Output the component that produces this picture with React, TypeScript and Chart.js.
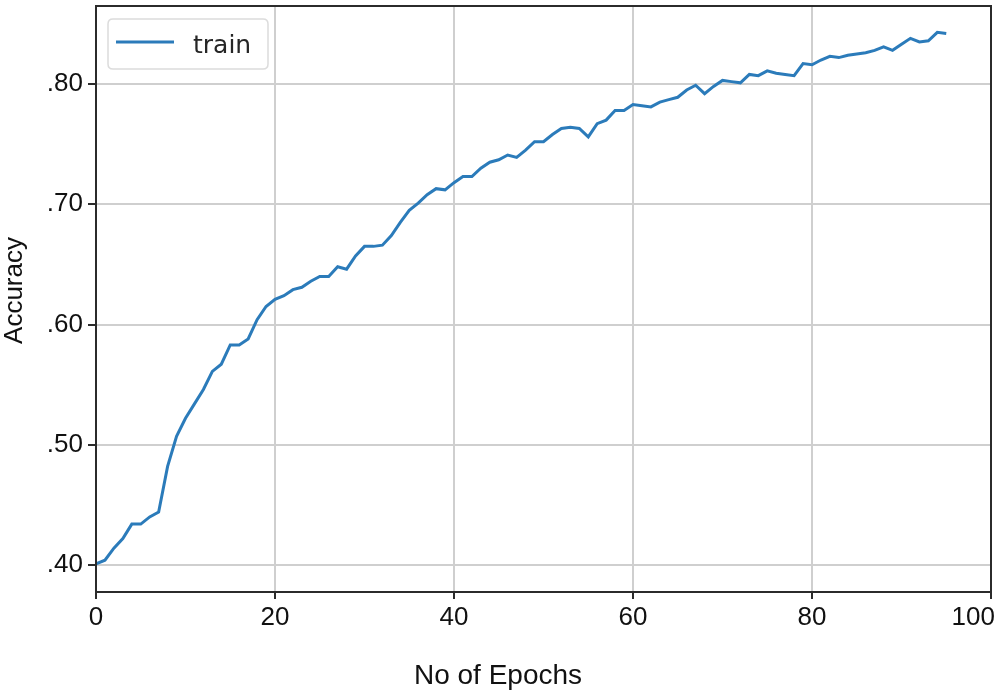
import React, { useEffect, useRef } from "react";
import { Chart, registerables } from "chart.js";

Chart.register(...registerables);

const seriesLabel = "train";
const trainAccuracy = [
  0.401, 0.404, 0.414, 0.422, 0.434, 0.434, 0.44, 0.444, 0.482, 0.507,
  0.522, 0.534, 0.546, 0.561, 0.567, 0.583, 0.583, 0.588, 0.604, 0.615,
  0.621, 0.624, 0.629, 0.631, 0.636, 0.64, 0.64, 0.648, 0.646, 0.657,
  0.665, 0.665, 0.666, 0.674, 0.685, 0.695, 0.701, 0.708, 0.713, 0.712,
  0.718, 0.723, 0.723, 0.73, 0.735, 0.737, 0.741, 0.739, 0.745, 0.752,
  0.752, 0.758, 0.763, 0.764, 0.763, 0.756, 0.767, 0.77, 0.778, 0.778,
  0.783, 0.782, 0.781, 0.785, 0.787, 0.789, 0.795, 0.799, 0.792, 0.798,
  0.803, 0.802, 0.801, 0.808, 0.807, 0.811, 0.809, 0.808, 0.807, 0.817,
  0.816, 0.82, 0.823, 0.822, 0.824, 0.825, 0.826, 0.828, 0.831, 0.828,
  0.833, 0.838, 0.835, 0.836, 0.843, 0.842,
];
const epochs = trainAccuracy.map((_, i) => i);
const yTickValues = [0.4, 0.5, 0.6, 0.7, 0.8];
const xTickValues = [0, 20, 40, 60, 80, 100];
const xTitle = "No of Epochs";
const yTitle = "Accuracy";

const LINE_COLOR = "#2b7bba";
const FONT = "'Liberation Sans', Arial, sans-serif";

const framePlugin = {
  id: "frame",
  beforeDraw(chart: any) {
    const xs = chart.scales.x;
    const items = xs.getLabelItems();
    if (items && items.length) {
      const last = items[items.length - 1];
      last.options.textAlign = "right";
      last.options.translation[0] = chart.chartArea.right + 4;
    }
  },
  afterDraw(chart: any) {
    const { ctx, chartArea } = chart;
    const { left, top, right, bottom } = chartArea;
    ctx.save();
    ctx.strokeStyle = "#2b2b2b";
    ctx.lineWidth = 2;
    ctx.strokeRect(left, top, right - left, bottom - top);

    // axis titles
    ctx.fillStyle = "#111";
    ctx.textAlign = "center";
    ctx.textBaseline = "alphabetic";
    ctx.font = `28px ${FONT}`;
    ctx.fillText(xTitle, 498, 684);
    ctx.save();
    ctx.translate(22, 290.5);
    ctx.rotate(-Math.PI / 2);
    ctx.font = `26px ${FONT}`;
    ctx.fillText(yTitle, 0, 0);
    ctx.restore();

    // legend
    const bx = 108, by = 19, bw = 160, bh = 50, r = 5;
    ctx.beginPath();
    ctx.moveTo(bx + r, by);
    ctx.lineTo(bx + bw - r, by);
    ctx.quadraticCurveTo(bx + bw, by, bx + bw, by + r);
    ctx.lineTo(bx + bw, by + bh - r);
    ctx.quadraticCurveTo(bx + bw, by + bh, bx + bw - r, by + bh);
    ctx.lineTo(bx + r, by + bh);
    ctx.quadraticCurveTo(bx, by + bh, bx, by + bh - r);
    ctx.lineTo(bx, by + r);
    ctx.quadraticCurveTo(bx, by, bx + r, by);
    ctx.closePath();
    ctx.fillStyle = "rgba(255,255,255,0.85)";
    ctx.fill();
    ctx.strokeStyle = "#dcdcdc";
    ctx.lineWidth = 1.5;
    ctx.stroke();

    const ds = chart.data.datasets[0];
    ctx.strokeStyle = ds.borderColor;
    ctx.lineWidth = 3;
    ctx.beginPath();
    ctx.moveTo(116, 42);
    ctx.lineTo(174, 42);
    ctx.stroke();

    ctx.fillStyle = "#262626";
    ctx.font = "25px 'DejaVu Sans', sans-serif";
    ctx.textBaseline = "alphabetic";
    ctx.textAlign = "left";
    ctx.fillText(ds.label, 193, 53);
    ctx.restore();
  },
};

export default function App() {
  const canvasRef = useRef<HTMLCanvasElement | null>(null);

  useEffect(() => {
    if (!canvasRef.current) return;
    const chart = new Chart(canvasRef.current, {
      type: "line",
      data: {
        datasets: [
          {
            label: seriesLabel,
            data: epochs.map((e, i) => ({ x: e, y: trainAccuracy[i] })),
            borderColor: LINE_COLOR,
            backgroundColor: LINE_COLOR,
            borderWidth: 3,
            pointRadius: 0,
            tension: 0,
            fill: false,
          },
        ],
      },
      options: {
        animation: false,
        responsive: false,
        layout: { padding: { top: 6, right: 11, left: 0, bottom: 0 } },
        plugins: {
          legend: { display: false },
          tooltip: { enabled: false },
        },
        scales: {
          x: {
            type: "linear",
            min: 0,
            max: 100,
            afterBuildTicks: (scale: any) => {
              scale.ticks = xTickValues.map((v) => ({ value: v }));
            },
            afterFit: (scale: any) => {
              scale.height = 100;
              scale.paddingLeft = 0;
              scale.paddingRight = 0;
            },
            grid: {
              color: "#cfcfcf",
              lineWidth: 2,
              tickColor: "#2b2b2b",
              tickLength: 7,
              drawTicks: true,
            },
            border: { color: "#2b2b2b", width: 2 },
            ticks: {
              color: "#111",
              font: { family: FONT, size: 26 },
              padding: 3,
              maxRotation: 0,
              autoSkip: false,
            },
            title: { display: false, text: xTitle },
          },
          y: {
            type: "linear",
            min: 0.37755,
            max: 0.8649,
            afterBuildTicks: (scale: any) => {
              scale.ticks = yTickValues.map((v) => ({ value: v }));
            },
            afterFit: (scale: any) => {
              scale.width = 96;
              scale.paddingTop = 0;
              scale.paddingBottom = 0;
            },
            grid: {
              color: "#cfcfcf",
              lineWidth: 2,
              tickColor: "#2b2b2b",
              tickLength: 8,
              drawTicks: true,
            },
            border: { color: "#2b2b2b", width: 2 },
            ticks: {
              color: "#111",
              font: { family: FONT, size: 26 },
              padding: 5,
              callback: (v: any) => Number(v).toFixed(2).replace(/^0/, ""),
            },
            title: { display: false, text: yTitle },
          },
        },
      },
      plugins: [framePlugin],
    });
    return () => chart.destroy();
  }, []);

  return (
    <div style={{ position: "absolute", left: 0, top: 0, width: 1002, height: 692, background: "#fff" }}>
      <canvas ref={canvasRef} width={1002} height={692} style={{ display: "block", width: 1002, height: 692 }} />
    </div>
  );
}
